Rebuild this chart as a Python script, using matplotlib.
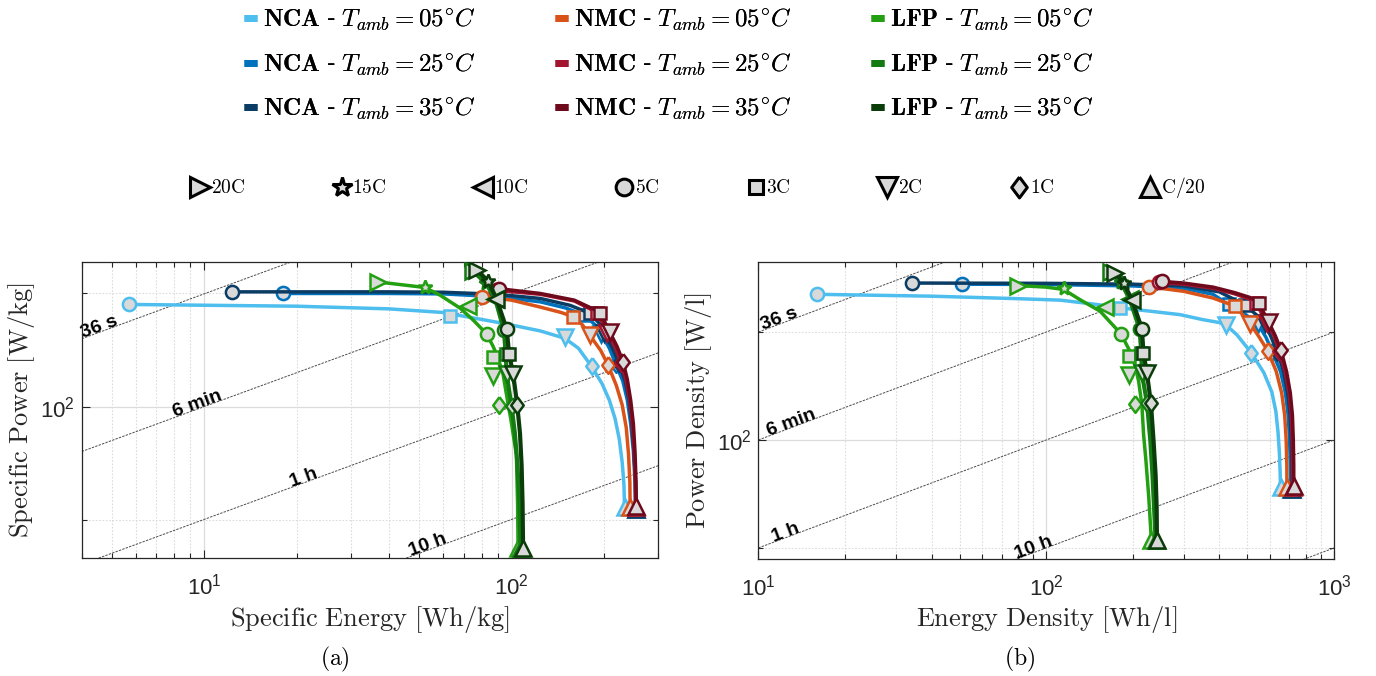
import numpy as np
import matplotlib
matplotlib.use("Agg")
import matplotlib.pyplot as plt
from matplotlib.lines import Line2D
from matplotlib.ticker import FixedLocator, NullFormatter, LogLocator

nan = np.nan

# C-rates (marker order)
c_rates = ["20C", "15C", "10C", "5C", "3C", "2C", "1C", "C/20"]

# ---------------- (a) specific energy [Wh/kg] / specific power [W/kg] ----------------
# markers at each C-rate
nca05_a_e = [nan, nan, nan, 5.7, 63, 149, 182, 233]
nca05_a_p = [nan, nan, nan, 187, 174, 153, 128, 54]
nca25_a_e = [nan, nan, nan, 18.1, 173, 196, 218, 253]
nca25_a_p = [nan, nan, nan, 200, 175, 156, 130, 53.5]
nca35_a_e = [nan, nan, nan, 12.3, 180, 200, 223, 254]
nca35_a_p = [nan, nan, nan, 202, 177, 157, 131, 53.5]
nmc05_a_e = [nan, nan, nan, 80, 158.5, 179.5, 206, 243]
nmc05_a_p = [nan, nan, nan, 196, 173.5, 155, 129, 54.2]
nmc25_a_e = [nan, nan, nan, 89, 190, 205, 227, 253]
nmc25_a_p = [nan, nan, nan, 204, 178, 157, 131, 54]
nmc35_a_e = [nan, nan, nan, 91, 194, 208.5, 230.5, 254.5]
nmc35_a_p = [nan, nan, nan, 206, 177, 158, 131.7, 54.5]
lfp05_a_e = [36.8, 52.2, 72.3, 83, 86.8, 87.1, 91.2, 105]
lfp05_a_p = [214.6, 207.5, 185.7, 156, 135.3, 120.4, 101.2, 42.1]
lfp25_a_e = [75, 82.5, 88.5, 94.4, 95.7, 96.4, 100, 107]
lfp25_a_p = [229, 213, 193, 160, 138, 122, 100.2, 42.1]
lfp35_a_e = [77.3, 84, 89.3, 96.4, 98.2, 101.2, 104.3, 109]
lfp35_a_p = [231, 215.4, 193.8, 161, 138, 122, 101.2, 42.1]

# curve points
nca05_a_le = [5.7, 20, 40, 60, 96, 124, 149, 165, 182, 197, 208, 217, 224, 229, 232, 233]
nca05_a_lp = [187, 185, 182, 178, 166, 159, 152, 143, 128, 115, 104, 93, 82, 71, 62, 54]
nca25_a_le = [18.1, 40, 60, 90, 124, 150, 173, 190, 196, 208, 218, 230, 238, 244, 249, 252, 253]
nca25_a_lp = [200, 200, 199.5, 196, 190, 183, 175, 163, 156, 143, 130, 117, 104, 90, 76, 63, 53.5]
nca35_a_le = [12.3, 40, 60, 90, 124, 155, 180, 195, 200, 212, 223, 234, 241, 246, 250, 253, 254]
nca35_a_lp = [202, 202, 201.5, 199, 194, 186, 177, 165, 157, 144, 131, 117, 104, 90, 76, 63, 53.5]
nmc05_a_le = [80, 100, 124, 145, 158.5, 170, 179.5, 195, 206, 219, 229, 236, 240, 242.5, 243]
nmc05_a_lp = [196, 192, 184, 178, 173.5, 165, 155, 141, 129, 114, 101, 88, 75, 63, 54.2]
nmc25_a_le = [89, 124, 160, 190, 205, 217, 227, 236, 242, 247, 250.5, 252.5, 253]
nmc25_a_lp = [204, 199, 191, 178, 157, 144, 131, 117, 104, 90, 76, 63, 54]
nmc35_a_le = [91, 124, 160, 184, 194, 201, 208.5, 220, 230.5, 238, 244, 249, 252, 254, 254.5]
nmc35_a_lp = [206, 200, 192, 182, 177, 168, 158, 145, 131.7, 118, 104, 90, 76, 63, 54.5]
lfp05_a_le = [36.8, 52.2, 58.5, 67.9, 75, 83, 87.1, 90.4, 93.9, 97.5, 99.3, 103.7, 104.6, 105]
lfp05_a_lp = [214.6, 207.5, 198, 183, 170, 156, 144.6, 134.6, 121.6, 101.2, 93.3, 74.4, 55, 42.1]
lfp25_a_le = [75, 82.5, 88.5, 94.4, 95.7, 96.4, 100, 102.5, 104.5, 106, 107]
lfp25_a_lp = [229, 213, 193, 160, 138, 122, 100.2, 85, 70, 55, 42.1]
lfp35_a_le = [77.3, 84, 89.3, 96.4, 98.2, 101.2, 104.3, 106.5, 107.8, 108.6, 109]
lfp35_a_lp = [231, 215.4, 193.8, 161, 138, 122, 101.2, 85, 70, 55, 42.1]

# ---------------- (b) energy density [Wh/l] / power density [W/l] ----------------
nca05_b_e = [nan, nan, nan, 16, 180, 422, 515, 652]
nca05_b_p = [nan, nan, nan, 254, 233, 208.5, 175, 74]
nca25_b_e = [nan, nan, nan, 50.9, 430, 545, 610, 707]
nca25_b_p = [nan, nan, nan, 271, 238, 210, 176, 73]
nca35_b_e = [nan, nan, nan, 34.1, 491.6, 575, 635, 715]
nca35_b_p = [nan, nan, nan, 273, 237, 211, 176, 73]
nmc05_b_e = [nan, nan, nan, 227, 454, 511.5, 589.6, 686]
nmc05_b_p = [nan, nan, nan, 266.5, 235.5, 210.6, 176.5, 74.2]
nmc25_b_e = [nan, nan, nan, 246, 535, 585, 645, 718]
nmc25_b_p = [nan, nan, nan, 274, 240, 212, 177, 74]
nmc35_b_e = [nan, nan, nan, 252, 546.7, 592.5, 654.6, 724.7]
nmc35_b_p = [nan, nan, nan, 276, 241, 212.8, 177.6, 74.5]
lfp05_b_e = [80.1, 114.9, 160.3, 181.8, 193.2, 193.2, 203.9, 232]
lfp05_b_p = [268.6, 264, 233.8, 197.3, 171, 152, 125.9, 52.7]
lfp25_b_e = [167.8, 182, 195, 211, 214, 215, 223.9, 240]
lfp25_b_p = [293, 274, 246, 204, 175, 153.5, 126.8, 52.7]
lfp35_b_e = [173.8, 185.7, 198.6, 215, 217.8, 223.9, 231.1, 242.6]
lfp35_b_p = [291, 273.5, 245.5, 204, 174.6, 153.5, 126.8, 52.7]

nca05_b_le = [16, 40, 80, 112, 150, 180, 230, 292, 350, 400, 422, 460, 515, 570, 608, 628, 639, 646, 650, 652]
nca05_b_lp = [254, 251, 247, 244.7, 238, 233, 228, 223, 216, 212, 208.5, 196, 175, 154, 136, 120, 105, 92, 81, 74]
nca25_b_le = [50.9, 100, 200, 300, 380, 430, 490, 545, 580, 610, 652, 678, 693, 701, 705, 707]
nca25_b_lp = [271, 270.5, 268, 264, 254, 238, 224, 210, 193, 176, 155, 135, 117, 100, 85, 73]
nca35_b_le = [34.1, 100, 200, 300, 400, 491.6, 540, 575, 605, 635, 668, 690, 704, 711, 714, 715]
nca35_b_lp = [273, 272.5, 271, 268, 258, 237, 222, 211, 193, 176, 155, 135, 117, 100, 85, 73]
nmc05_b_le = [227, 300, 380, 454, 511.5, 550, 589.6, 630, 658, 674, 682, 685.5, 686]
nmc05_b_lp = [266.5, 259, 248, 235.5, 210.6, 193, 176.5, 155, 135, 117, 100, 85, 74.2]
nmc25_b_le = [246, 300, 380, 450, 505, 535, 585, 618, 645, 676, 698, 710, 716, 718, 718]
nmc25_b_lp = [274, 271, 264, 255, 247, 240, 212, 195, 177, 155, 135, 117, 100, 85, 74]
nmc35_b_le = [252, 300, 380, 450, 510, 546.7, 592.5, 625, 654.6, 684, 705, 717, 722, 724.5, 724.7]
nmc35_b_lp = [276, 273, 266, 257, 249, 241, 212.8, 195, 177.6, 155, 135, 117, 100, 85, 74.5]
lfp05_b_le = [80.1, 100, 114.9, 131, 154, 181.8, 201, 209.5, 215, 218, 222, 227, 232]
lfp05_b_lp = [268.6, 266, 262, 245.5, 228, 197.3, 169, 145.6, 125.4, 103.4, 88, 70, 52.7]
lfp25_b_le = [167.8, 182, 195, 211, 214, 215, 223.9, 230, 234, 237, 240]
lfp25_b_lp = [293, 274, 246, 204, 175, 153.5, 126.8, 100, 80, 65, 52.7]
lfp35_b_le = [173.8, 185.7, 198.6, 215, 217.8, 223.9, 231.1, 236, 240, 242, 242.6]
lfp35_b_lp = [291, 273.5, 245.5, 204, 174.6, 153.5, 126.8, 100, 80, 65, 52.7]

# iso-discharge-time guide lines
iso_times_h = [0.01, 0.1, 1, 10, 100]
iso_labels = ["36 s", "6 min", "1 h", "10 h", ""]
iso_label_e_a = [4.6, 9.6, 21.4, 54.2, nan]
iso_label_e_b = [12.0, 13.2, 12.6, 91.6, nan]

# legend names
chem_names = ["NCA", "NMC", "LFP"]
temps = ["05", "25", "35"]

# ---------------- style ----------------
plt.rcParams["font.family"] = ["Liberation Sans", "DejaVu Sans"]
plt.rcParams["mathtext.fontset"] = "cm"

colors = {
    "nca05": "#4DBEEE", "nca25": "#0072BD", "nca35": "#0B3C64",
    "nmc05": "#D95319", "nmc25": "#A2142F", "nmc35": "#6E0A1C",
    "lfp05": "#22A012", "lfp25": "#147A12", "lfp35": "#0B3D0B",
}
diamond = [(0, 1), (0.75, 0), (0, -1), (-0.75, 0), (0, 1)]
mk_shapes = [">", "*", "<", "o", "s", "v", diamond, "^"]
mk_sizes = [11, 10.5, 11, 9.5, 8.5, 11, 12, 11]
mk_leg_sizes = [14, 14.5, 14, 12, 10, 14, 15, 14]
fill = "#D9D9D9"
axc = "#262626"

g = globals()
keys = ["nca05", "nca25", "nca35", "nmc05", "nmc25", "nmc35", "lfp05", "lfp25", "lfp35"]


def iso_power(e, t):
    return 10 ** 1.40 * (np.asarray(e) / t) ** 0.3


def draw_panel(ax, tag, xlim, ylim, label_e):
    ax.set_xscale("log")
    ax.set_yscale("log")
    ax.set_xlim(*xlim)
    ax.set_ylim(*ylim)

    # guide lines
    ee = np.logspace(np.log10(xlim[0]), np.log10(xlim[1]), 50)
    for t, lab, le in zip(iso_times_h, iso_labels, label_e):
        ax.plot(ee, iso_power(ee, t), color="0.3", lw=0.7, ls=(0, (2.5, 1.2)), zorder=1.5)
        if lab:
            p0 = ax.transData.transform((le, iso_power(le, t)))
            p1 = ax.transData.transform((le * 1.5, iso_power(le * 1.5, t)))
            ang = np.degrees(np.arctan2(p1[1] - p0[1], p1[0] - p0[0]))
            ax.text(le, iso_power(le, t), lab, rotation=ang, rotation_mode="anchor",
                    ha="center", va="baseline", fontsize=14, fontweight="bold",
                    color="k", zorder=2)

    for i, k in enumerate(keys):
        col = colors[k]
        lw = 3.0 if k in ("lfp25", "lfp35") else 2.5
        ax.plot(g[f"{k}_{tag}_le"], g[f"{k}_{tag}_lp"], color=col, lw=lw,
                solid_joinstyle="round", solid_capstyle="round", zorder=3 + 2 * i)
        for j, (e, p) in enumerate(zip(g[f"{k}_{tag}_e"], g[f"{k}_{tag}_p"])):
            if np.isnan(e):
                continue
            ax.plot(e, p, ls="none", marker=mk_shapes[j], ms=mk_sizes[j], mfc=fill,
                    mec=col, mew=1.8, zorder=4 + 2 * i)

    ax.yaxis.set_major_locator(FixedLocator([100]))
    ax.yaxis.set_minor_locator(FixedLocator([50, 200]))
    ax.yaxis.set_minor_formatter(NullFormatter())
    ax.xaxis.set_major_locator(LogLocator(base=10))
    ax.xaxis.set_minor_locator(LogLocator(base=10, subs=np.arange(2, 10)))
    ax.xaxis.set_minor_formatter(NullFormatter())
    ax.grid(which="major", color="#DCDCDC", lw=0.9, ls="-", zorder=0)
    ax.grid(which="minor", color="#DCDCDC", lw=0.8, ls=(0, (1.5, 1.5)), zorder=0)
    ax.set_axisbelow(True)
    ax.tick_params(which="both", direction="in", top=True, right=True, colors=axc,
                   labelsize=16, width=0.8)
    ax.tick_params(which="major", length=6)
    ax.tick_params(axis="x", which="major", pad=11)
    ax.tick_params(axis="y", which="major", pad=5)
    ax.tick_params(which="minor", length=3.5)
    for sp in ax.spines.values():
        sp.set_color(axc)
        sp.set_linewidth(0.9)


fig = plt.figure(figsize=(13.76, 6.76), dpi=100)
ax_a = fig.add_axes([0.0594, 0.1741, 0.4190, 0.4388])
ax_b = fig.add_axes([0.5511, 0.1731, 0.4184, 0.4398])

draw_panel(ax_a, "a", (4, 300), (39.5, 243), iso_label_e_a)
draw_panel(ax_b, "b", (10, 1000), (46.7, 313), iso_label_e_b)

ax_a.set_xlabel(r"$\mathrm{Specific\ Energy\ [Wh/kg]}$", fontsize=19, color=axc, labelpad=3)
ax_a.set_ylabel(r"$\mathrm{Specific\ Power\ [W/kg]}$", fontsize=19, color=axc, labelpad=2)
ax_b.set_xlabel(r"$\mathrm{Energy\ Density\ [Wh/l]}$", fontsize=19, color=axc, labelpad=3)
ax_b.set_ylabel(r"$\mathrm{Power\ Density\ [W/l]}$", fontsize=19, color=axc, labelpad=2)

fig.text(0.2435, 0.024, r"$\mathrm{(a)}$", ha="center", va="center", fontsize=17)
fig.text(0.741, 0.024, r"$\mathrm{(b)}$", ha="center", va="center", fontsize=17)

# chemistry / temperature legend
h1, l1 = [], []
for ci, cn in enumerate(chem_names):
    for ti, tp in enumerate(temps):
        k = keys[ci * 3 + ti]
        h1.append(Line2D([], [], color=colors[k], lw=5, solid_capstyle="butt"))
        l1.append(r"$\mathbf{%s}$ - $T_{amb} = %s^{\circ}C$" % (cn, tp))
leg1 = fig.legend(h1, l1, ncol=3, loc="upper left", bbox_to_anchor=(0.1686, 1.008),
                  frameon=False, fontsize=18, handlelength=0.5, handletextpad=0.25,
                  columnspacing=3.18, labelspacing=0.72, borderpad=0)
fig.add_artist(leg1)

# C-rate marker legend
h2 = [Line2D([], [], ls="none", marker=m, ms=s, mfc=fill, mec="k", mew=2.2)
      for m, s in zip(mk_shapes, mk_leg_sizes)]
l2 = [r"$\mathrm{%s}$" % c for c in c_rates]
leg2 = fig.legend(h2, l2, ncol=8, loc="upper left", bbox_to_anchor=(0.1315, 0.755),
                  frameon=False, fontsize=14, handlelength=1.0, handletextpad=0.05,
                  columnspacing=4.45, borderpad=0)

fig.savefig("out.png", dpi=100)
